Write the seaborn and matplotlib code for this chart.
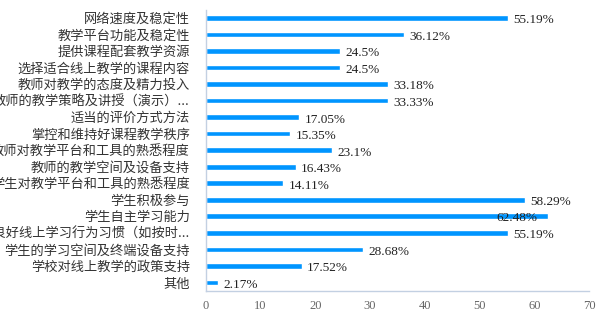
import matplotlib
matplotlib.use("Agg")
import matplotlib.pyplot as plt
import seaborn as sns
import pandas as pd
import numpy as np
from matplotlib.ticker import FixedLocator

categories = [
    "网络速度及稳定性",
    "教学平台功能及稳定性",
    "提供课程配套教学资源",
    "选择适合线上教学的课程内容",
    "教师对教学的态度及精力投入",
    "教师的教学策略及讲授（演示）...",
    "适当的评价方式方法",
    "掌控和维持好课程教学秩序",
    "教师对教学平台和工具的熟悉程度",
    "教师的教学空间及设备支持",
    "学生对教学平台和工具的熟悉程度",
    "学生积极参与",
    "学生自主学习能力",
    "养成良好线上学习行为习惯（如按时...",
    "学生的学习空间及终端设备支持",
    "学校对线上教学的政策支持",
    "其他",
]
values = [55.19, 36.12, 24.5, 24.5, 33.18, 33.33, 17.05, 15.35, 23.1,
          16.43, 14.11, 58.29, 62.48, 55.19, 28.68, 17.52, 2.17]
value_labels = ["55.19%", "36.12%", "24.5%", "24.5%", "33.18%", "33.33%",
                "17.05%", "15.35%", "23.1%", "16.43%", "14.11%", "58.29%",
                "62.48%", "55.19%", "28.68%", "17.52%", "2.17%"]
x_ticks = [0, 10, 20, 30, 40, 50, 60, 70]

df = pd.DataFrame({"item": categories, "pct": values})

sns.set_theme(style="white")
plt.rcParams["font.family"] = ["Noto Sans CJK SC", "DejaVu Sans"]

BAR = "#0095ff"
AXIS = "#c3d0e2"

fig = plt.figure(figsize=(6, 3.3), dpi=100)
ax = fig.add_axes([0.343, 0.119, 0.639, 0.852])

sns.barplot(data=df, x="pct", y="item", order=categories, orient="h",
            color=BAR, saturation=1, width=0.34, ax=ax)

ax.set_xlim(0, 70)
ax.set_ylim(16.5, -0.5)
ax.set_xlabel("")
ax.set_ylabel("")

# value labels at the bar ends
for i, (v, lab) in enumerate(zip(values, value_labels)):
    if v > 60:
        ax.text(v - 2.0, i + 0.1, lab, ha="right", va="center",
                fontsize=9.5, family="Liberation Serif", color="#222222")
    else:
        ax.text(v + 1.0, i + 0.15, lab, ha="left", va="center",
                fontsize=9.5, family="Liberation Serif", color="#222222")

for s in ["top", "right"]:
    ax.spines[s].set_visible(False)
for s in ["left", "bottom"]:
    ax.spines[s].set_color(AXIS)
    ax.spines[s].set_linewidth(1.0)

ax.set_xticks(x_ticks)
ax.set_xticklabels([str(t) for t in x_ticks], family="Liberation Serif",
                   fontsize=9, color="#666666")
ax.tick_params(axis="x", length=0, pad=7)

ax.set_yticks(range(len(categories)))
ax.set_yticklabels(categories, fontsize=9.5, color="#333333")
ax.tick_params(axis="y", which="major", length=0, pad=11.5)
ax.yaxis.set_minor_locator(FixedLocator(np.arange(-0.5, 17, 1.0)))
ax.tick_params(axis="y", which="minor", length=10, width=1.0, color=AXIS)

fig.savefig("out.png", dpi=100)
